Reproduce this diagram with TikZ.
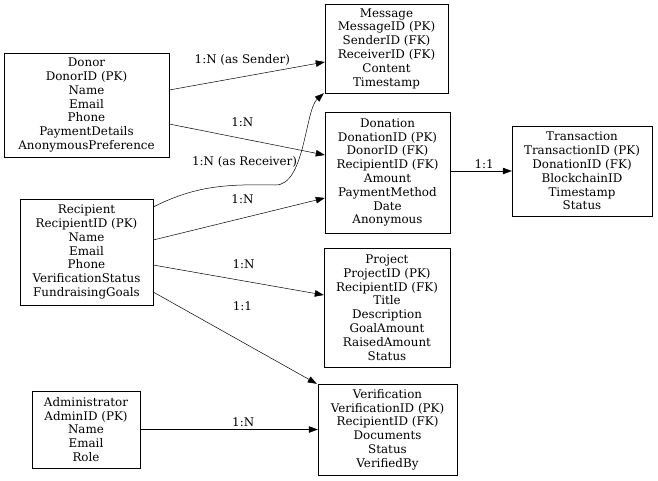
\documentclass[tikz,border=0pt]{standalone}
\usepackage{fontspec}
\setmainfont{DejaVu Serif}
\usepackage{tikz}
\usetikzlibrary{shapes,arrows,positioning,calc,arrows.meta}

\tikzset{
  entity/.style={draw, rectangle, align=center, inner sep=2pt,
    font=\fontsize{11.9}{13.8}\selectfont},
  rel/.style={-{Triangle[length=9pt,width=6.5pt]}, line width=0.5pt},
  card/.style={font=\fontsize{11.9}{13}\selectfont, inner sep=1pt}
}

\begin{document}
\begin{tikzpicture}[x=1pt,y=-1pt]
\useasboundingbox (0,0) rectangle (658,480);
% entities
\node[entity, minimum width=165pt, minimum height=104pt] (donor) at (86.5,105)
  {Donor\\DonorID (PK)\\Name\\Email\\Phone\\PaymentDetails\\AnonymousPreference};
\node[entity, minimum width=133pt, minimum height=106pt] (recipient) at (86.5,252)
  {Recipient\\RecipientID (PK)\\Name\\Email\\Phone\\VerificationStatus\\FundraisingGoals};
\node[entity, minimum width=108pt, minimum height=77pt] (admin) at (86,429.5)
  {Administrator\\AdminID (PK)\\Name\\Email\\Role};
\node[entity, minimum width=123pt, minimum height=89pt] (message) at (386.5,48.5)
  {Message\\MessageID (PK)\\SenderID (FK)\\ReceiverID (FK)\\Content\\Timestamp};
\node[entity, minimum width=125pt, minimum height=121pt] (donation) at (387.5,172.5)
  {Donation\\DonationID (PK)\\DonorID (FK)\\RecipientID (FK)\\Amount\\PaymentMethod\\Date\\Anonymous};
\node[entity, minimum width=126pt, minimum height=119pt] (project) at (387,307.5)
  {Project\\ProjectID (PK)\\RecipientID (FK)\\Title\\Description\\GoalAmount\\RaisedAmount\\Status};
\node[entity, minimum width=139pt, minimum height=91pt] (verif) at (387.5,429.5)
  {Verification\\VerificationID (PK)\\RecipientID (FK)\\Documents\\Status\\VerifiedBy};
\node[entity, minimum width=140pt, minimum height=90pt] (trans) at (582,171)
  {Transaction\\TransactionID (PK)\\DonationID (FK)\\BlockchainID\\Timestamp\\Status};

% relations
\draw[rel] ([yshift=15pt]donor.east) -- ([yshift=-13.5pt]message.west)
  node[card, pos=0.47, yshift=17pt] {1:N (as Sender)};
\draw[rel] ([yshift=-19pt]donor.east) -- ([yshift=17.5pt]donation.west)
  node[card, pos=0.47, yshift=16.5pt] {1:N};
\draw[rel] ([yshift=45pt]recipient.east) .. controls (195,186) and (225,184) .. (275,185)
  node[card, pos=0.78, yshift=23pt] {1:N (as Receiver)}
  .. controls (305,186) and (305,110) .. ([xshift=-1pt]message.south west);
\draw[rel] ([yshift=12pt]recipient.east) -- ([yshift=-25.5pt]donation.west)
  node[card, pos=0.52, yshift=19pt] {1:N};
\draw[rel] ([yshift=-13pt]recipient.east) -- ([yshift=12.5pt]project.west)
  node[card, pos=0.53, yshift=17pt] {1:N};
\draw[rel] ([yshift=-40pt]recipient.east) -- ([xshift=-1pt]verif.north west)
  node[card, pos=0.545, yshift=36pt] {1:1};
\draw[rel] (admin.east) -- (verif.west)
  node[card, pos=0.58, yshift=7pt] {1:N};
\draw[rel] ([yshift=1.5pt]donation.east) -- (trans.west)
  node[card, pos=0.55, yshift=7pt] {1:1};
\end{tikzpicture}
\end{document}
